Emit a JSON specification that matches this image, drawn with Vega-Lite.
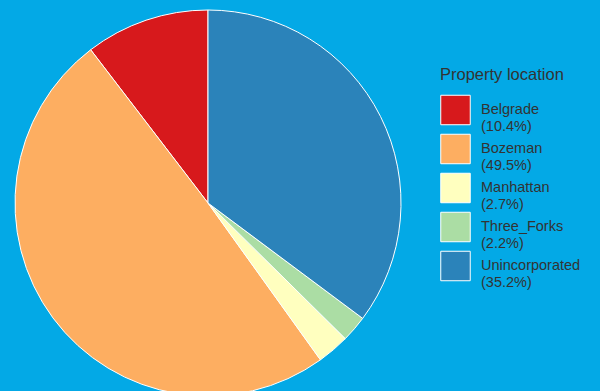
{
  "$schema": "https://vega.github.io/schema/vega-lite/v6.json",
  "autosize": "none",
  "width": 416,
  "height": 406,
  "padding": {"left": 0, "top": 0, "right": 184, "bottom": -15},
  "background": "#03a9e6",
  "config": {"view": {"stroke": null}, "font": "Liberation Sans"},
  "data": {"values": [
    {"location": "Belgrade (10.4%)", "value": 10.4},
    {"location": "Bozeman (49.5%)", "value": 49.5},
    {"location": "Manhattan (2.7%)", "value": 2.7},
    {"location": "Three_Forks (2.2%)", "value": 2.2},
    {"location": "Unincorporated (35.2%)", "value": 35.2}
  ]},
  "mark": {"type": "arc", "outerRadius": 193, "stroke": "white", "strokeWidth": 1},
  "encoding": {
    "theta": {"field": "value", "type": "quantitative", "stack": true},
    "order": {"field": "location", "sort": "descending"},
    "color": {
      "field": "location", "type": "nominal",
      "scale": {"range": ["#d7191c", "#fdae61", "#ffffbf", "#abdda4", "#2b83ba"]},
      "legend": {
        "title": "Property location",
        "orient": "none", "legendX": 440, "legendY": 67,
        "titleFont": "Liberation Sans", "titleFontSize": 16.5, "titleFontWeight": "normal", "titleColor": "#333333", "titlePadding": 11,
        "labelExpr": "split(datum.label, ' ')",
        "labelFont": "Liberation Sans", "labelFontSize": 14.5, "labelColor": "#333333", "labelLineHeight": 14, "labelOffset": 10,
        "symbolType": "square", "symbolSize": 870, "symbolStrokeColor": "white", "symbolStrokeWidth": 1, "symbolOpacity": 1,
        "rowPadding": -13, "labelLimit": 200
      }
    }
  }
}
